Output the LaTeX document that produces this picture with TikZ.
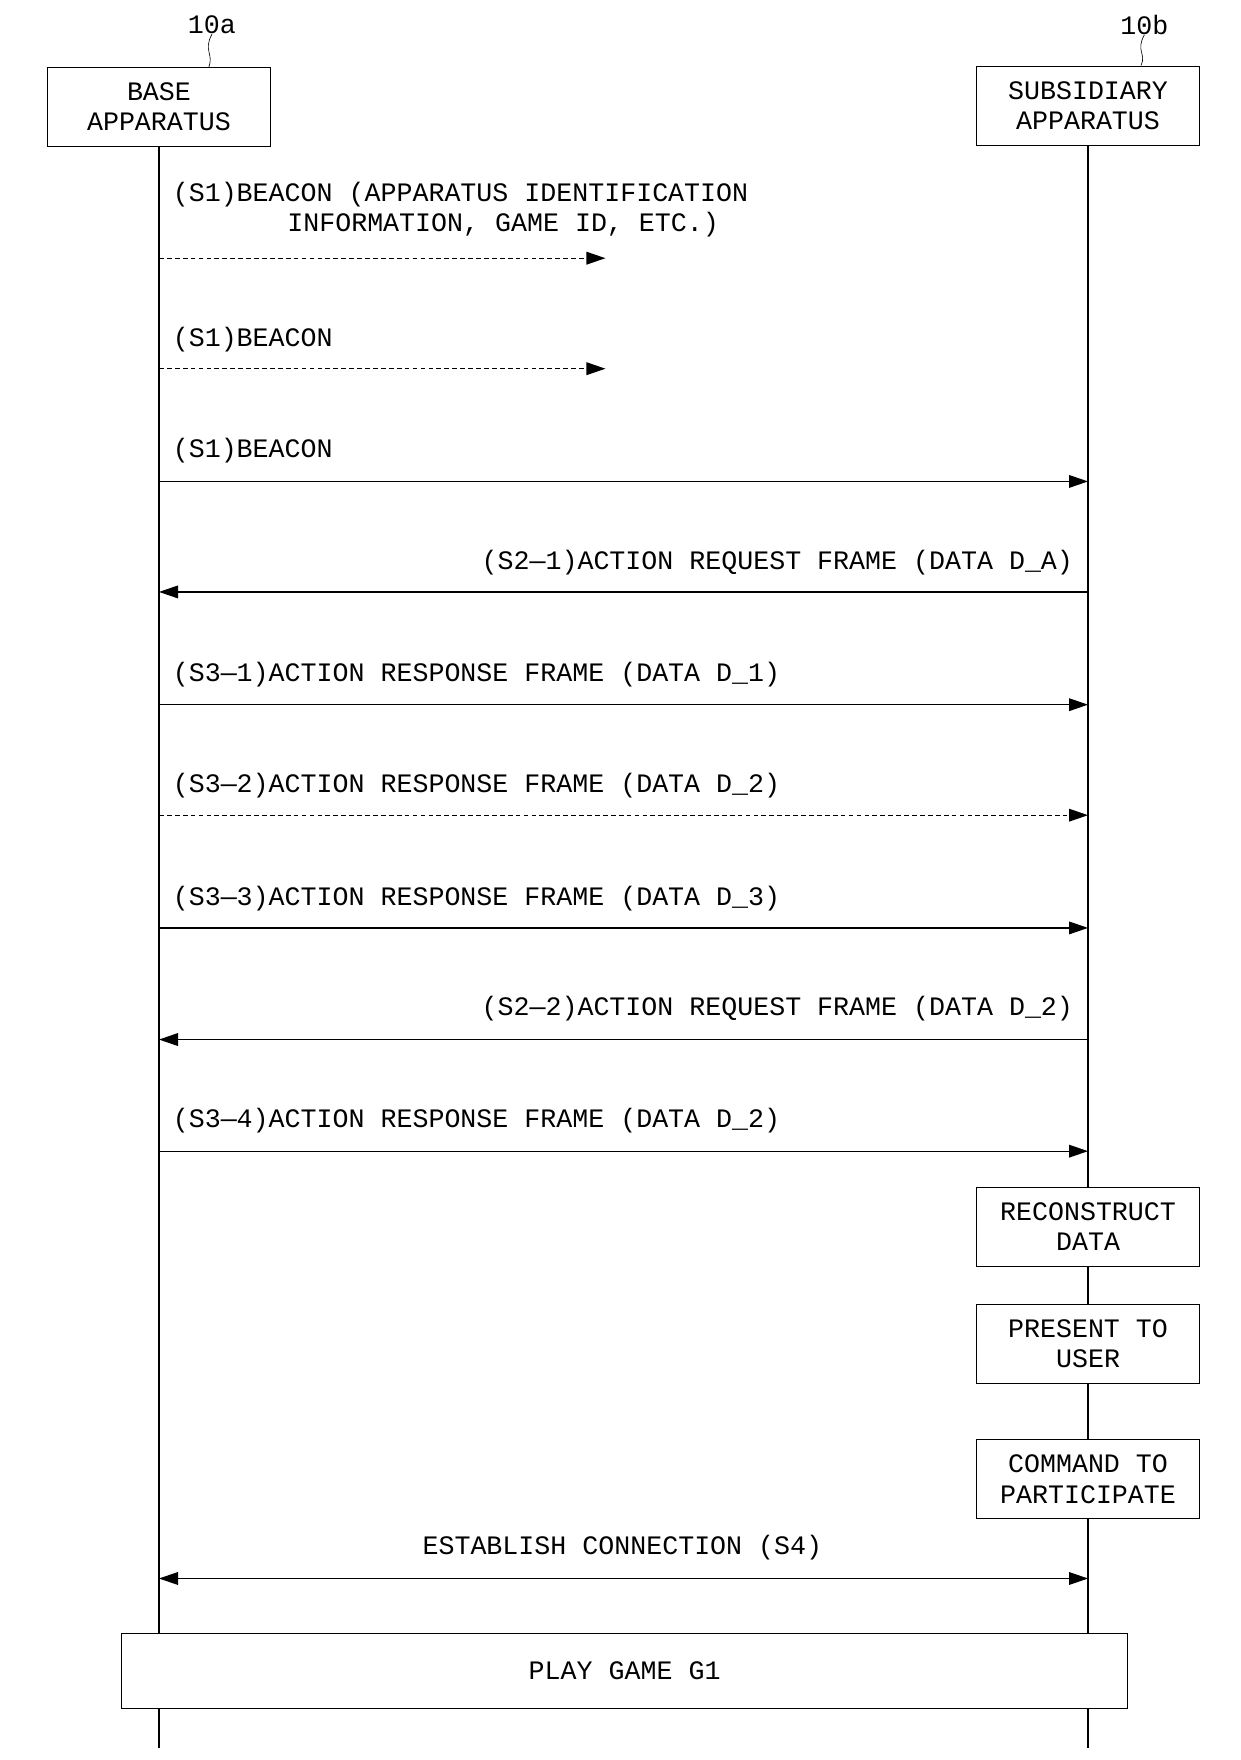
\documentclass[tikz,border=0pt]{standalone}
\usepackage{fontspec}
\setmainfont{Liberation Mono}
\usetikzlibrary{positioning,arrows.meta}
\tikzset{
  unit/.style={x=0.025cm, y=-0.025cm},
  box/.style={draw, thick, minimum width=4.95cm, minimum height=1.75cm, align=center, inner sep=0pt},
  lbl/.style={inner sep=0pt},
  msg/.style={thick, -{Triangle[length=12pt,width=8pt]}},
  dmsg/.style={msg, densely dashed}
}
\begin{document}
\begin{tikzpicture}[unit, font=\fontsize{16.8}{19}\selectfont]
  \useasboundingbox (0,0) rectangle (1100,1561);
  % apparatus heads
  \node[box] (base) at (141,95) {BASE\\APPARATUS};
  \node[box] (sub) at (965,94) {SUBSIDIARY\\APPARATUS};
  \node[lbl] (na) at (188,22) {10a};
  \node[lbl] (nb) at (1015,22) {10b};
  \draw (na.south) .. controls (180,45) and (190,48) .. (185,60);
  \draw (nb.south) .. controls (1007,45) and (1017,48) .. (1012,58);
  \coordinate (aend) at (141,1550);
  \coordinate (bend) at (965,1550);
  \draw[thick] (base.south) -- (aend);
  \draw[thick] (sub.south) -- (bend);
  % lifeline points
  \foreach \n/\y in {1/229,2/327,3/427,4/525,5/625,6/723,7/823,8/922,9/1021,10/1400} {
    \coordinate (a\n) at (141,\y);
    \coordinate (b\n) at (965,\y);
  }
  \coordinate (h1) at (537,229);
  \coordinate (h2) at (537,327);
  % messages
  \node[lbl, anchor=west, align=left] (t1) at (153,186) {(S1)BEACON (APPARATUS IDENTIFICATION\\\hspace*{4.3em}INFORMATION, GAME ID, ETC.)};
  \draw[dmsg] (a1) -- (h1);
  \node[lbl, anchor=west] (t2) at (153,301) {(S1)BEACON};
  \draw[dmsg] (a2) -- (h2);
  \node[lbl, anchor=west] (t3) at (153,400) {(S1)BEACON};
  \draw[msg] (a3) -- (b3);
  \node[lbl, anchor=east] (t4) at (952,499) {(S2—1)ACTION REQUEST FRAME (DATA D\_A)};
  \draw[msg] (b4) -- (a4);
  \node[lbl, anchor=west] (t5) at (153,598) {(S3—1)ACTION RESPONSE FRAME (DATA D\_1)};
  \draw[msg] (a5) -- (b5);
  \node[lbl, anchor=west] (t6) at (153,697) {(S3—2)ACTION RESPONSE FRAME (DATA D\_2)};
  \draw[dmsg] (a6) -- (b6);
  \node[lbl, anchor=west] (t7) at (153,797) {(S3—3)ACTION RESPONSE FRAME (DATA D\_3)};
  \draw[msg] (a7) -- (b7);
  \node[lbl, anchor=east] (t8) at (952,895) {(S2—2)ACTION REQUEST FRAME (DATA D\_2)};
  \draw[msg] (b8) -- (a8);
  \node[lbl, anchor=west] (t9) at (153,994) {(S3—4)ACTION RESPONSE FRAME (DATA D\_2)};
  \draw[msg] (a9) -- (b9);
  % subsidiary steps
  \node[box, fill=white] (recon) at (965,1088) {RECONSTRUCT\\DATA};
  \node[box, fill=white] (present) at (965,1192) {PRESENT TO\\USER};
  \node[box, fill=white] (command) at (965,1312) {COMMAND TO\\PARTICIPATE};
  \node[lbl] (t10) at (552,1373) {ESTABLISH CONNECTION (S4)};
  \draw[msg, {Triangle[length=12pt,width=8pt]}-{Triangle[length=12pt,width=8pt]}] (a10) -- (b10);
  \node[box, fill=white, minimum width=22.3cm, minimum height=1.65cm] (play) at (554,1482) {PLAY GAME G1};
\end{tikzpicture}
\end{document}
